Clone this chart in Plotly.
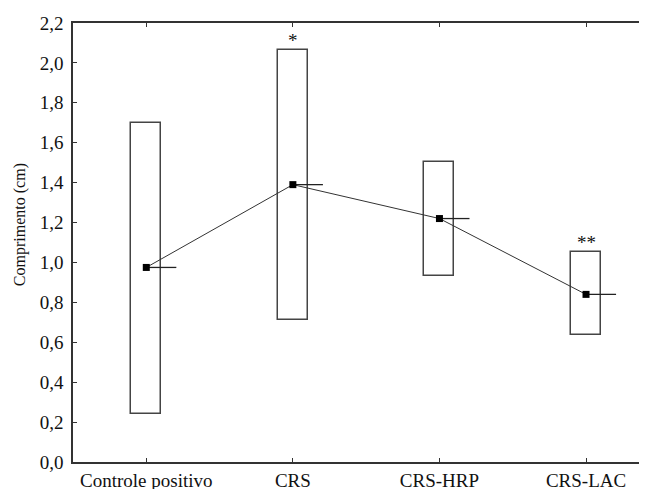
import plotly.graph_objects as go

categories = ["Controle positivo", "CRS", "CRS-HRP", "CRS-LAC"]
box_low = [0.24, 0.71, 0.93, 0.635]
box_high = [1.70, 2.065, 1.505, 1.05]
means = [0.975, 1.39, 1.22, 0.84]
signif = ["", "*", "", "**"]
y_ticks = [0.0, 0.2, 0.4, 0.6, 0.8, 1.0, 1.2, 1.4, 1.6, 1.8, 2.0, 2.2]
y_tick_labels = [f"{v:.1f}".replace(".", ",") for v in y_ticks]

xs = list(range(len(categories)))
FONT = "Liberation Serif"
BOX_W = 0.205

fig = go.Figure()

# boxes
fig.add_trace(go.Bar(
    x=xs, base=box_low, y=[h - l for h, l in zip(box_high, box_low)],
    width=BOX_W, marker=dict(color="white", line=dict(color="#444", width=1.5)),
    hoverinfo="skip", showlegend=False,
))

# short horizontal line to the right of each mean
hx, hy = [], []
for x, m in zip(xs, means):
    hx += [x, x + BOX_W, None]
    hy += [m, m, None]
fig.add_trace(go.Scatter(x=hx, y=hy, mode="lines", line=dict(color="#222", width=1.3),
                         showlegend=False, hoverinfo="skip"))

# mean line with markers
fig.add_trace(go.Scatter(x=xs, y=means, mode="lines+markers",
                         line=dict(color="#333", width=1),
                         marker=dict(symbol="square", size=7, color="black"),
                         showlegend=False))

for x, h, s in zip(xs, box_high, signif):
    if s:
        fig.add_annotation(x=x, y=h, text=s, showarrow=False, yanchor="bottom", yshift=-3,
                           font=dict(family=FONT, size=19, color="#111"))

# y-axis title (placed as in the reference, slightly above the plot's middle)
fig.add_annotation(text="Comprimento (cm)", textangle=-90, showarrow=False,
                   xref="paper", yref="paper", x=-0.092, y=0.54,
                   xanchor="center", yanchor="middle",
                   font=dict(family=FONT, size=16, color="#111"))

# page body has an 8px margin: size the figure to fit inside the window
fig.update_layout(
    width=639, height=481,
    margin=dict(l=65, r=0, t=15, b=27),
    plot_bgcolor="white", paper_bgcolor="white",
    font=dict(family=FONT, size=19, color="#111"),
    bargap=0,
)
fig.update_xaxes(
    range=[-0.5, 3.416], tickvals=xs, ticktext=categories,
    showline=True, linecolor="#333", linewidth=1.5, mirror="ticks",
    ticks="inside", ticklen=4, tickcolor="#333", showgrid=False, zeroline=False,
    ticklabelstandoff=0, automargin=False,
)
fig.update_yaxes(
    range=[0, 2.2], tickvals=y_ticks, ticktext=y_tick_labels,
    showline=True, linecolor="#333", linewidth=1.5,
    ticks="inside", ticklen=4, tickcolor="#333", showgrid=False, zeroline=False,
    ticklabelstandoff=4, automargin=False,
)

fig.write_html("out.html")
